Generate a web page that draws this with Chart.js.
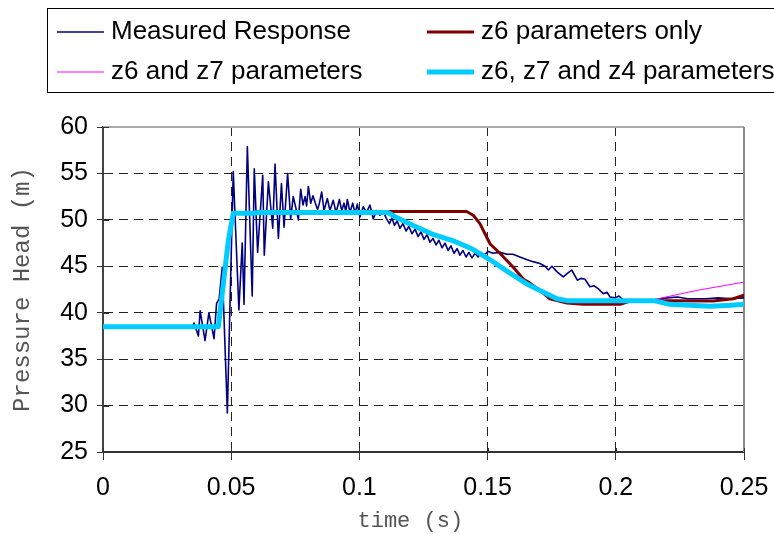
<!DOCTYPE html>
<html><head><meta charset="utf-8">
<script src="https://cdn.jsdelivr.net/npm/chart.js@4/dist/chart.umd.min.js"></script>
<style>html,body{margin:0;padding:0;background:#fff}canvas{display:block}</style>
</head><body>
<canvas id="c" width="774" height="535"></canvas>
<script>
const seriesNames = ['Measured Response', 'z6 parameters only', 'z6 and z7 parameters', 'z6, z7 and z4 parameters'];
const seriesColors = ['#000080', '#800000', '#FF00FF', '#00CCFF'];

const measuredTime = [0, 0.035, 0.0355, 0.0372, 0.0379, 0.0398, 0.0413, 0.0433, 0.0443, 0.0453, 0.0465, 0.0485,
  0.0508, 0.0530, 0.0543, 0.0550, 0.0563, 0.0582, 0.0590, 0.0603, 0.0623, 0.0629, 0.0645, 0.0662, 0.0671, 0.0684,
  0.0696, 0.0706, 0.0720, 0.0732, 0.0742, 0.0753, 0.0762, 0.0771, 0.0780, 0.0788, 0.0794, 0.0801, 0.0810, 0.0819,
  0.0827, 0.0837, 0.0844, 0.0853, 0.0862, 0.0875, 0.0885, 0.0898, 0.0909, 0.0922, 0.0931, 0.0940, 0.0947, 0.0953,
  0.0963, 0.0974, 0.0983, 0.0992, 0.1002, 0.1015, 0.1028, 0.1041, 0.1054, 0.1067, 0.1080, 0.1092, 0.1106, 0.1117,
  0.1127, 0.1137, 0.1147, 0.1158, 0.1170, 0.1182, 0.1193, 0.1205, 0.1217, 0.1229, 0.1240, 0.1252, 0.1264, 0.1275,
  0.1287, 0.1299, 0.1310, 0.1322, 0.1334, 0.1346, 0.1357, 0.1369, 0.1381, 0.1392, 0.1404, 0.1416, 0.1427, 0.1439,
  0.1451, 0.1463, 0.1474, 0.1486, 0.1502, 0.1521, 0.1548, 0.1576, 0.1599, 0.1626, 0.1654, 0.1677, 0.1704, 0.1724,
  0.1737, 0.1751, 0.1771, 0.1795, 0.1810, 0.1828, 0.1850, 0.1864, 0.1880, 0.1899, 0.1915, 0.1931, 0.1951, 0.1966,
  0.1977, 0.1997, 0.2012, 0.2028, 0.2100, 0.2150, 0.2200, 0.2240, 0.2280, 0.2350, 0.2400, 0.2450, 0.2500];
const measuredHead = [38.5, 38.5, 38.9, 37.5, 40.2, 37.0, 40.0, 37.2, 41.0, 41.5, 44.9, 29.2,
  55.2, 40.3, 47.5, 40.9, 57.9, 41.8, 55.5, 46.5, 54.8, 46.2, 54.1, 49.1, 56.0, 48.0,
  53.9, 49.2, 55.0, 50.1, 52.5, 51.2, 50.0, 53.3, 51.6, 52.5, 51.5, 53.6, 51.8, 52.6,
  51.9, 51.1, 51.8, 53.0, 51.0, 52.3, 51.0, 52.1, 50.8, 52.2, 51.0, 51.8, 50.9, 52.2,
  50.8, 51.8, 50.7, 51.7, 50.3, 51.4, 50.8, 51.6, 50.1, 51.0, 50.5, 50.9, 50.1, 49.6,
  50.2, 49.4, 49.9, 49.1, 49.6, 48.8, 49.3, 48.5, 49.0, 48.2, 48.7, 47.9, 48.4, 47.6,
  48.0, 47.3, 47.8, 47.0, 47.5, 46.7, 47.2, 46.4, 46.9, 46.2, 46.7, 46.0, 46.5, 45.9,
  46.4, 46.0, 46.5, 46.2, 46.6, 46.4, 46.5, 46.3, 46.3, 46.0, 45.7, 45.5, 45.3, 45.0,
  44.6, 45.0, 44.4, 43.85, 44.2, 44.6, 43.5, 43.7, 43.6, 42.8, 42.9, 42.6, 42.05, 42.2,
  41.7, 41.6, 41.8, 41.4, 41.3, 41.4, 41.6, 41.7, 41.5, 41.5, 41.6, 41.5, 41.6];

const z6Time = [0, 0.045, 0.0489, 0.0508, 0.058, 0.060, 0.1418, 0.1444, 0.147, 0.151, 0.1548, 0.160, 0.164,
  0.1659, 0.1704, 0.1743, 0.1809, 0.1873, 0.2017, 0.205, 0.215, 0.2224, 0.238, 0.2458, 0.25];
const z6Head = [38.5, 38.5, 47.8, 50.7, 50.7, 50.9, 50.9, 50.5, 49.6, 47.4, 46.4, 44.9, 43.6,
  43.3, 42.4, 41.5, 41.05, 40.9, 40.9, 41.2, 41.3, 41.3, 41.25, 41.5, 41.9];

const z6z7Time = [0, 0.045, 0.0489, 0.0508, 0.058, 0.0605, 0.111, 0.1135, 0.121, 0.129, 0.137, 0.142, 0.1444,
  0.151, 0.1574, 0.1659, 0.1704, 0.177, 0.1809, 0.2146, 0.2316, 0.25];
const z6z7Head = [38.5, 38.5, 47.8, 50.7, 50.7, 50.8, 50.8, 50.4, 49.4, 48.4, 47.7, 47.1, 46.8,
  45.7, 44.5, 43.0, 42.4, 41.5, 41.3, 41.4, 42.4, 43.3];

const z6z7z4Time = [0, 0.045, 0.0489, 0.0508, 0.058, 0.0605, 0.111, 0.1135, 0.121, 0.129, 0.137, 0.142, 0.1444,
  0.151, 0.1574, 0.1659, 0.1704, 0.177, 0.1809, 0.215, 0.221, 0.2367, 0.245, 0.25];
const z6z7z4Head = [38.5, 38.5, 47.8, 50.7, 50.7, 50.8, 50.8, 50.4, 49.4, 48.4, 47.7, 47.1, 46.8,
  45.7, 44.5, 43.0, 42.4, 41.5, 41.3, 41.3, 40.9, 40.7, 40.8, 40.9];

const xTicks = [0, 0.05, 0.1, 0.15, 0.2, 0.25];
const xTickLabels = ['0', '0.05', '0.1', '0.15', '0.2', '0.25'];
const yTicks = [25, 30, 35, 40, 45, 50, 55, 60];
const yTickLabels = ['25', '30', '35', '40', '45', '50', '55', '60'];

const pts = (t, v) => t.map((x, i) => ({x: x, y: v[i]}));
const widths = [1.6, 3, 1, 5];
const orders = [4, 3, 2, 1];
const allSeries = [[measuredTime, measuredHead], [z6Time, z6Head], [z6z7Time, z6z7Head], [z6z7z4Time, z6z7z4Head]];

const datasets = allSeries.map((s, i) => ({
  label: seriesNames[i],
  data: pts(s[0], s[1]),
  borderColor: seriesColors[i],
  backgroundColor: seriesColors[i],
  borderWidth: widths[i],
  pointRadius: 0,
  tension: 0,
  fill: false,
  order: orders[i],
  borderJoinStyle: 'round',
  borderCapStyle: 'round'
}));

const legendBox = {
  id: 'legendBox',
  afterDraw(chart) {
    const ctx = chart.ctx;
    ctx.save();
    ctx.strokeStyle = '#000';
    ctx.lineWidth = 1;
    ctx.strokeRect(47.5, 8.5, 760, 84);
    const pos = [[57, 32], [427, 32], [57, 72], [427, 72]];
    chart.data.datasets.forEach((ds, i) => {
      const [x, y] = pos[i];
      ctx.strokeStyle = ds.borderColor;
      ctx.lineWidth = ds.borderWidth;
      ctx.lineCap = 'butt';
      ctx.beginPath(); ctx.moveTo(x, y); ctx.lineTo(x + 47, y); ctx.stroke();
      ctx.fillStyle = '#000';
      ctx.font = '26px "Liberation Sans", Arial, sans-serif';
      ctx.textBaseline = 'middle';
      ctx.textAlign = 'left';
      ctx.fillText(ds.label, x + 54, y);
    });
    ctx.restore();
  }
};

const frame = {
  id: 'frame',
  beforeDatasetsDraw(chart) {
    const {ctx, chartArea: a, scales} = chart;
    ctx.save();
    ctx.strokeStyle = '#aaa';
    ctx.lineWidth = 2;
    ctx.beginPath(); ctx.moveTo(a.left, a.top); ctx.lineTo(a.right, a.top); ctx.stroke();
    ctx.strokeStyle = '#888';
    ctx.beginPath(); ctx.moveTo(a.right, a.top); ctx.lineTo(a.right, a.bottom); ctx.stroke();
    ctx.strokeStyle = '#333';
    ctx.lineWidth = 1;
    yTicks.forEach(v => { const y = Math.round(scales.y.getPixelForValue(v)) + 0.5; ctx.beginPath(); ctx.moveTo(a.left, y); ctx.lineTo(a.left + 6, y); ctx.stroke(); });
    xTicks.forEach(v => { const x = Math.round(scales.x.getPixelForValue(v)) + 0.5; ctx.beginPath(); ctx.moveTo(x, a.bottom); ctx.lineTo(x, a.bottom - 4); ctx.stroke(); });
    ctx.restore();
  }
};

const gridColor = (edges) => (c) => (c.tick && edges.includes(c.tick.value)) ? 'rgba(0,0,0,0)' : '#222';

new Chart(document.getElementById('c'), {
  type: 'line',
  data: {datasets: datasets},
  plugins: [frame, legendBox],
  options: {
    responsive: false,
    animation: false,
    devicePixelRatio: 1,
    layout: {padding: {top: 127, right: 30, left: 0, bottom: 0}},
    plugins: {legend: {display: false}, tooltip: {enabled: false}},
    scales: {
      x: {
        type: 'linear', min: 0, max: 0.25,
        afterBuildTicks: s => { s.ticks = xTicks.map(v => ({value: v})); },
        afterFit: s => { s.height = 83; s.paddingLeft = 0; s.paddingRight = 0; },
        ticks: {
          font: {family: 'Liberation Sans', size: 25}, color: '#000', padding: 13,
          maxRotation: 0, autoSkip: false,
          callback: (v, i) => xTickLabels[i]
        },
        grid: {color: gridColor([0, 0.25]), lineWidth: 1, tickLength: 8, tickColor: '#333', tickBorderDash: []},
        border: {display: true, color: '#333', width: 2, dash: [9, 6]},
        title: {display: true, text: 'time (s)  ', font: {family: 'Liberation Mono', size: 22}, color: '#555', padding: {top: 0, bottom: 1}}
      },
      y: {
        type: 'linear', min: 25, max: 60,
        afterBuildTicks: s => { s.ticks = yTicks.map(v => ({value: v})); },
        afterFit: s => { s.width = 103; s.paddingTop = 0; s.paddingBottom = 0; },
        ticks: {
          font: {family: 'Liberation Sans', size: 25}, color: '#000', padding: 9,
          autoSkip: false,
          callback: (v, i) => yTickLabels[i]
        },
        grid: {color: gridColor([25, 60]), lineWidth: 1, tickLength: 6, tickColor: '#333', tickBorderDash: []},
        border: {display: true, color: '#444', width: 2, dash: [9, 6]},
        title: {display: true, text: 'Pressure Head (m)', font: {family: 'Liberation Mono', size: 24}, color: '#555', padding: {top: 8, bottom: 0}}
      }
    }
  }
});
</script>
</body></html>
